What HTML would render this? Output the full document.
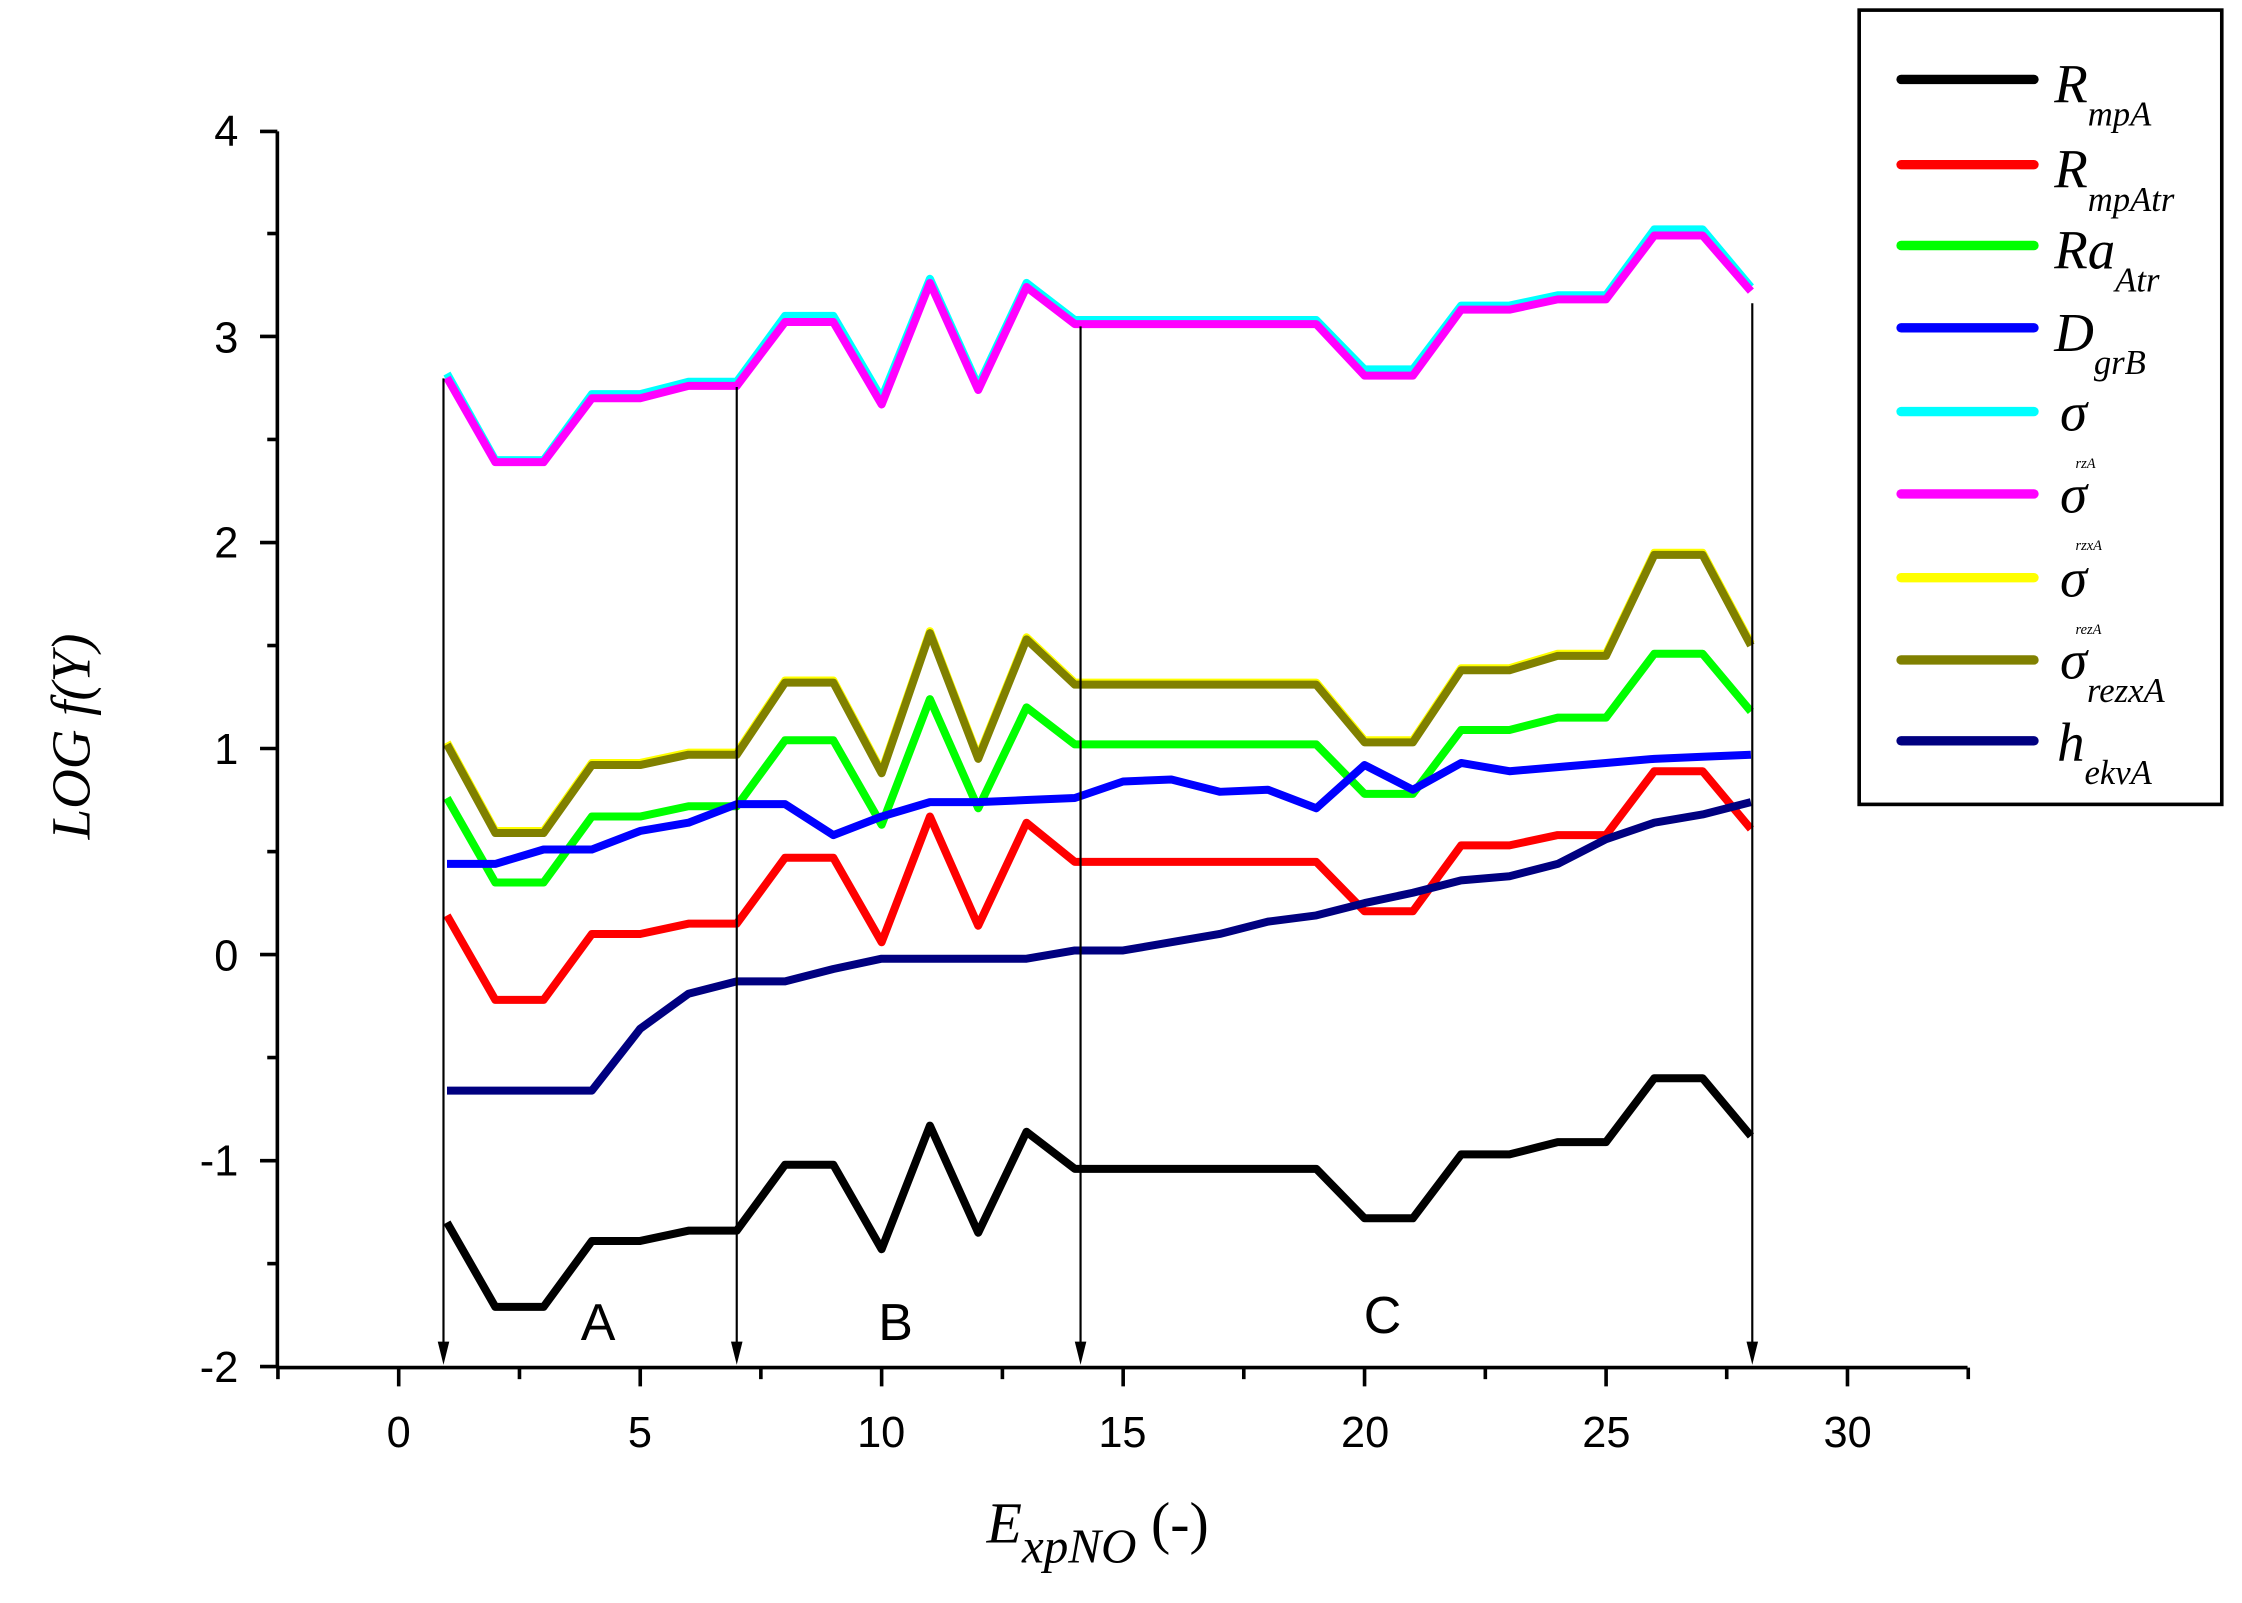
<!DOCTYPE html>
<html><head><meta charset="utf-8"><style>
html,body{margin:0;padding:0;background:#fff}
svg{display:block}
</style></head><body>
<svg width="2242" height="1603" viewBox="0 0 1552 1110" preserveAspectRatio="none" xmlns="http://www.w3.org/2000/svg">
<rect width="1552" height="1110" fill="#fff"/>
<g transform="translate(276,661) scale(33.43,-142.67)" fill="none" stroke-width="8" stroke-linejoin="round">
<polyline vector-effect="non-scaling-stroke" stroke="#00ffff" points="1,2.82 2,2.4 3,2.4 4,2.72 5,2.72 6,2.78 7,2.78 8,3.1 9,3.1 10,2.7 11,3.28 12,2.76 13,3.26 14,3.08 15,3.08 16,3.08 17,3.08 18,3.08 19,3.08 20,2.84 21,2.84 22,3.15 23,3.15 24,3.2 25,3.2 26,3.52 27,3.52 28,3.24"/>
<polyline vector-effect="non-scaling-stroke" stroke="#ff00ff" points="1,2.8 2,2.39 3,2.39 4,2.7 5,2.7 6,2.76 7,2.76 8,3.07 9,3.07 10,2.67 11,3.26 12,2.74 13,3.24 14,3.06 15,3.06 16,3.06 17,3.06 18,3.06 19,3.06 20,2.81 21,2.81 22,3.13 23,3.13 24,3.18 25,3.18 26,3.49 27,3.49 28,3.22"/>
<polyline vector-effect="non-scaling-stroke" stroke="#ffff00" points="1,1.03 2,0.6 3,0.6 4,0.93 5,0.93 6,0.98 7,0.98 8,1.33 9,1.33 10,0.89 11,1.57 12,0.96 13,1.54 14,1.32 15,1.32 16,1.32 17,1.32 18,1.32 19,1.32 20,1.04 21,1.04 22,1.39 23,1.39 24,1.46 25,1.46 26,1.95 27,1.95 28,1.51"/>
<polyline vector-effect="non-scaling-stroke" stroke="#808000" points="1,1.02 2,0.59 3,0.59 4,0.92 5,0.92 6,0.97 7,0.97 8,1.32 9,1.32 10,0.88 11,1.56 12,0.95 13,1.53 14,1.31 15,1.31 16,1.31 17,1.31 18,1.31 19,1.31 20,1.03 21,1.03 22,1.38 23,1.38 24,1.45 25,1.45 26,1.94 27,1.94 28,1.5"/>
<polyline vector-effect="non-scaling-stroke" stroke="#00ff00" points="1,0.76 2,0.35 3,0.35 4,0.67 5,0.67 6,0.72 7,0.72 8,1.04 9,1.04 10,0.63 11,1.24 12,0.71 13,1.2 14,1.02 15,1.02 16,1.02 17,1.02 18,1.02 19,1.02 20,0.78 21,0.78 22,1.09 23,1.09 24,1.15 25,1.15 26,1.46 27,1.46 28,1.18"/>
<polyline vector-effect="non-scaling-stroke" stroke="#ff0000" points="1,0.19 2,-0.22 3,-0.22 4,0.1 5,0.1 6,0.15 7,0.15 8,0.47 9,0.47 10,0.06 11,0.67 12,0.14 13,0.64 14,0.45 15,0.45 16,0.45 17,0.45 18,0.45 19,0.45 20,0.21 21,0.21 22,0.53 23,0.53 24,0.58 25,0.58 26,0.89 27,0.89 28,0.61"/>
<polyline vector-effect="non-scaling-stroke" stroke="#000000" points="1,-1.3 2,-1.71 3,-1.71 4,-1.39 5,-1.39 6,-1.34 7,-1.34 8,-1.02 9,-1.02 10,-1.43 11,-0.83 12,-1.35 13,-0.86 14,-1.04 15,-1.04 16,-1.04 17,-1.04 18,-1.04 19,-1.04 20,-1.28 21,-1.28 22,-0.97 23,-0.97 24,-0.91 25,-0.91 26,-0.6 27,-0.6 28,-0.88"/>
<polyline vector-effect="non-scaling-stroke" stroke="#0000ff" points="1,0.44 2,0.44 3,0.51 4,0.51 5,0.6 6,0.64 7,0.73 8,0.73 9,0.58 10,0.67 11,0.74 12,0.74 13,0.75 14,0.76 15,0.84 16,0.85 17,0.79 18,0.8 19,0.71 20,0.92 21,0.8 22,0.93 23,0.89 24,0.91 25,0.93 26,0.95 27,0.96 28,0.97"/>
<polyline vector-effect="non-scaling-stroke" stroke="#000080" points="1,-0.66 2,-0.66 3,-0.66 4,-0.66 5,-0.36 6,-0.19 7,-0.13 8,-0.13 9,-0.07 10,-0.02 11,-0.02 12,-0.02 13,-0.02 14,0.02 15,0.02 16,0.06 17,0.1 18,0.16 19,0.19 20,0.25 21,0.3 22,0.36 23,0.38 24,0.44 25,0.56 26,0.64 27,0.68 28,0.74"/>
</g>
<g stroke="#000" stroke-width="2.5">
<line x1="192" y1="91" x2="192" y2="947"/><line x1="192" y1="947" x2="1362" y2="947"/>
<line x1="180" y1="946.3" x2="192" y2="946.3"/><line x1="180" y1="803.7" x2="192" y2="803.7"/><line x1="180" y1="661" x2="192" y2="661"/><line x1="180" y1="518.3" x2="192" y2="518.3"/><line x1="180" y1="375.7" x2="192" y2="375.7"/><line x1="180" y1="233" x2="192" y2="233"/><line x1="180" y1="91" x2="192" y2="91"/>
<line x1="185" y1="875" x2="192" y2="875"/><line x1="185" y1="732.3" x2="192" y2="732.3"/><line x1="185" y1="589.7" x2="192" y2="589.7"/><line x1="185" y1="447" x2="192" y2="447"/><line x1="185" y1="304.3" x2="192" y2="304.3"/><line x1="185" y1="161.7" x2="192" y2="161.7"/>
<line x1="192.4" y1="947" x2="192.4" y2="955"/><line x1="276" y1="947" x2="276" y2="960"/><line x1="359.6" y1="947" x2="359.6" y2="955"/><line x1="443.2" y1="947" x2="443.2" y2="960"/><line x1="526.7" y1="947" x2="526.7" y2="955"/><line x1="610.3" y1="947" x2="610.3" y2="960"/><line x1="693.9" y1="947" x2="693.9" y2="955"/><line x1="777.5" y1="947" x2="777.5" y2="960"/><line x1="861" y1="947" x2="861" y2="955"/><line x1="944.6" y1="947" x2="944.6" y2="960"/><line x1="1028.2" y1="947" x2="1028.2" y2="955"/><line x1="1111.8" y1="947" x2="1111.8" y2="960"/><line x1="1195.3" y1="947" x2="1195.3" y2="955"/><line x1="1278.9" y1="947" x2="1278.9" y2="960"/><line x1="1362.5" y1="947" x2="1362.5" y2="955"/>
</g>
<g font-family="Liberation Sans" font-size="30" text-anchor="end">
<text x="165" y="957">-2</text><text x="165" y="814">-1</text><text x="165" y="672">0</text><text x="165" y="529">1</text><text x="165" y="386">2</text><text x="165" y="244">3</text><text x="165" y="101">4</text>
</g>
<g font-family="Liberation Sans" font-size="30" text-anchor="middle">
<text x="276" y="1002">0</text><text x="443" y="1002">5</text><text x="610" y="1002">10</text><text x="777" y="1002">15</text><text x="945" y="1002">20</text><text x="1112" y="1002">25</text><text x="1279" y="1002">30</text>
</g>
<g stroke="#000" stroke-width="1.5">
<line x1="307" y1="262" x2="307" y2="935"/><line x1="510" y1="268" x2="510" y2="935"/><line x1="748" y1="226" x2="748" y2="935"/><line x1="1213" y1="210" x2="1213" y2="935"/>
</g>
<g fill="#000">
<polygon points="303,929 311,929 307,945"/><polygon points="506,929 514,929 510,945"/><polygon points="744,929 752,929 748,945"/><polygon points="1209,929 1217,929 1213,945"/>
</g>
<g font-family="Liberation Sans" font-size="36" text-anchor="middle">
<text x="414" y="928">A</text><text x="620" y="928">B</text><text x="957" y="923">C</text>
</g>
<text transform="translate(62,510) rotate(-90)" font-family="Liberation Serif" font-style="italic" font-size="38" text-anchor="middle">LOG f(Y)</text>
<text x="683" y="1068" font-family="Liberation Serif" font-style="italic" font-size="40">E<tspan font-size="34" dy="14">xpNO</tspan><tspan font-style="normal" dy="-14"> (-)</tspan></text>
<rect x="1287" y="7" width="251" height="550" fill="#fff" stroke="#000" stroke-width="2.5"/>
<g stroke-width="6.5" stroke-linecap="round">
<line x1="1316" y1="55" x2="1408" y2="55" stroke="#000000"/>
<line x1="1316" y1="114" x2="1408" y2="114" stroke="#ff0000"/>
<line x1="1316" y1="170" x2="1408" y2="170" stroke="#00ff00"/>
<line x1="1316" y1="227" x2="1408" y2="227" stroke="#0000ff"/>
<line x1="1316" y1="285" x2="1408" y2="285" stroke="#00ffff"/>
<line x1="1316" y1="342" x2="1408" y2="342" stroke="#ff00ff"/>
<line x1="1316" y1="400" x2="1408" y2="400" stroke="#ffff00"/>
<line x1="1316" y1="457" x2="1408" y2="457" stroke="#808000"/>
<line x1="1316" y1="513" x2="1408" y2="513" stroke="#000080"/>
</g>
<g font-family="Liberation Serif" font-style="italic" font-size="38">
<text x="1422" y="71">R<tspan font-size="24" dy="16">mpA</tspan></text>
<text x="1422" y="130">R<tspan font-size="24" dy="16">mpAtr</tspan></text>
<text x="1422" y="186">Ra<tspan font-size="24" dy="16">Atr</tspan></text>
<text x="1422" y="243">D<tspan font-size="24" dy="16">grB</tspan></text>
<text x="1426" y="298">σ<tspan font-size="10" dx="-8" dy="26">rzA</tspan></text>
<text x="1426" y="355">σ<tspan font-size="10" dx="-8" dy="26">rzxA</tspan></text>
<text x="1426" y="413">σ<tspan font-size="10" dx="-8" dy="26">rezA</tspan></text>
<text x="1426" y="470">σ<tspan font-size="24" dy="16">rezxA</tspan></text>
<text x="1424" y="527">h<tspan font-size="24" dy="16">ekvA</tspan></text>
</g>
</svg>
</body></html>
